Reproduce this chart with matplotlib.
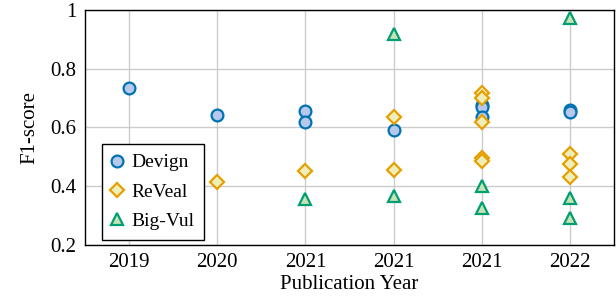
import matplotlib
matplotlib.use("Agg")
import matplotlib.pyplot as plt

plt.rcParams['font.family'] = ['Liberation Serif', 'DejaVu Serif']
plt.rcParams['mathtext.fontset'] = 'stix'

categories = ["2019", "2020", "2021", "2021", "2021", "2022"]

# (category index, F1) pairs per dataset
devign_x = [0, 1, 2, 2, 3, 4, 4, 4, 5, 5]
devign_y = [0.735, 0.644, 0.657, 0.620, 0.590, 0.678, 0.668, 0.637, 0.661, 0.651]

reveal_x = [1, 2, 3, 3, 4, 4, 4, 4, 4, 5, 5, 5]
reveal_y = [0.415, 0.450, 0.636, 0.454, 0.718, 0.700, 0.620, 0.497, 0.486, 0.508, 0.475, 0.430]

bigvul_x = [2, 3, 3, 4, 4, 5, 5, 5]
bigvul_y = [0.356, 0.918, 0.365, 0.401, 0.325, 0.972, 0.360, 0.292]

fig = plt.figure(figsize=(6.16, 3.02), dpi=100)
ax = fig.add_axes([0.138, 0.189, 0.859, 0.778])

ms = 8.5
mew = 1.6
ax.plot(devign_x, devign_y, 'o', ms=ms, mec='#0072B2', mfc='#b6c8ec', mew=mew,
        label='Devign', zorder=3)
ax.plot(reveal_x, reveal_y, 'D', ms=ms * 0.8, mec='#E69F00', mfc='#eeeebb', mew=mew,
        label='ReVeal', zorder=3)
ax.plot(bigvul_x, bigvul_y, '^', ms=ms, mec='#009E73', mfc='#c8e2b4', mew=mew,
        label='Big-Vul', zorder=3)

ax.set_xlim(-0.5, 5.5)
ax.set_ylim(0.2, 1.0)
ax.set_xticks(range(len(categories)))
ax.set_xticklabels(categories)
ax.set_yticks([0.2, 0.4, 0.6, 0.8, 1.0])
ax.set_yticklabels(["0.2", "0.4", "0.6", "0.8", "1"])
ax.tick_params(length=0, labelsize=15, pad=6)
ax.grid(True, color='#cccccc', linewidth=1.0)
ax.set_axisbelow(True)
for s in ax.spines.values():
    s.set_linewidth(1.0)
    s.set_color('black')

ax.set_xlabel("Publication Year", fontsize=15, labelpad=2)
ax.set_ylabel("F1-score", fontsize=15, labelpad=8)

leg = ax.legend(loc='lower left', bbox_to_anchor=(0.032, 0.022), fontsize=14,
                fancybox=False, framealpha=1, edgecolor='black',
                handlelength=0.6, handletextpad=0.4, borderpad=0.5,
                borderaxespad=0.0, labelspacing=0.6)
leg.get_frame().set_linewidth(1.0)

fig.savefig("out.png", dpi=100)
